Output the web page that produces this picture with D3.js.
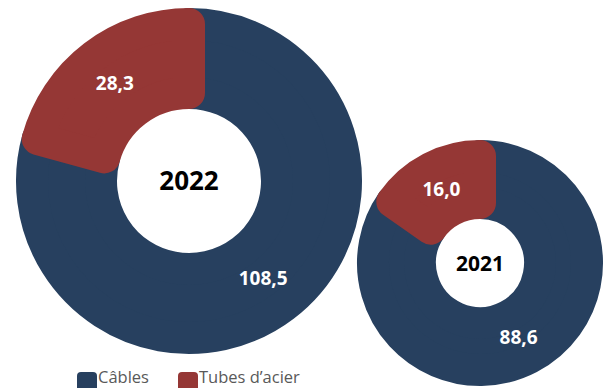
<!DOCTYPE html>
<html>
<head>
<meta charset="utf-8">
<script src="https://cdn.jsdelivr.net/npm/d3@7"></script>
<style>
  html, body { margin: 0; padding: 0; background: #ffffff; }
  svg { display: block; }
</style>
</head>
<body>
<svg id="chart" width="605" height="388"></svg>
<script>
// Production by product type, two years
const categories = ["Câbles", "Tubes d’acier"];
const years = ["2022", "2021"];
const values2022 = [108.5, 28.3];
const values2021 = [88.6, 16.0];

const colors = d3.scaleOrdinal()
  .domain(categories)
  .range(["#27405f", "#953735"]);

const svg = d3.select("#chart");
const fmt = v => d3.format(".1f")(v).replace(".", ",");

// Each ring: centre, geometric radii, border width (rounded slice edges)
const rings = [
  { year: years[0], values: values2022, cx: 189, cy: 181, inner: 88, outer: 157, border: 32, yearSize: 26 },
  { year: years[1], values: values2021, cx: 480, cy: 263, inner: 60, outer: 107, border: 32, yearSize: 21 }
];

const pie = d3.pie().sort(null).value(d => d.value);

rings.forEach(ring => {
  const data = categories.map((c, i) => ({ category: c, value: ring.values[i] }));
  const arcs = pie(data);
  const arc = d3.arc().innerRadius(ring.inner).outerRadius(ring.outer);

  const g = svg.append("g").attr("transform", `translate(${ring.cx},${ring.cy})`);

  g.selectAll("path.slice")
    .data(arcs)
    .join("path")
    .attr("class", "slice")
    .attr("d", arc)
    .attr("fill", d => colors(d.data.category))
    .attr("stroke", d => colors(d.data.category))
    .attr("stroke-width", ring.border)
    .attr("stroke-linejoin", "round");

  g.selectAll("text.value")
    .data(arcs)
    .join("text")
    .attr("class", "value")
    .attr("transform", d => `translate(${arc.centroid(d)})`)
    .attr("text-anchor", "middle")
    .attr("dy", "0.36em")
    .attr("fill", "#ffffff")
    .attr("font-family", "'Open Sans', sans-serif")
    .attr("font-weight", 700)
    .attr("font-size", 19)
    .text(d => fmt(d.data.value));

  g.append("text")
    .attr("text-anchor", "middle")
    .attr("dy", "0.36em")
    .attr("fill", "#000000")
    .attr("font-family", "'Open Sans', sans-serif")
    .attr("font-weight", 700)
    .attr("font-size", ring.yearSize)
    .text(ring.year);
});

// Legend
const legendX = d3.scalePoint().domain(categories).range([77, 178]);
const legend = svg.append("g");
const items = legend.selectAll("g")
  .data(categories)
  .join("g")
  .attr("transform", d => `translate(${legendX(d)},372)`);

items.append("rect")
  .attr("width", 20)
  .attr("height", 20)
  .attr("rx", 4)
  .attr("fill", d => colors(d));

items.append("text")
  .attr("x", 21)
  .attr("y", 11)
  .attr("fill", "#595959")
  .attr("font-family", "'Open Sans', sans-serif")
  .attr("font-size", 16.5)
  .text(d => d);
</script>
</body>
</html>
